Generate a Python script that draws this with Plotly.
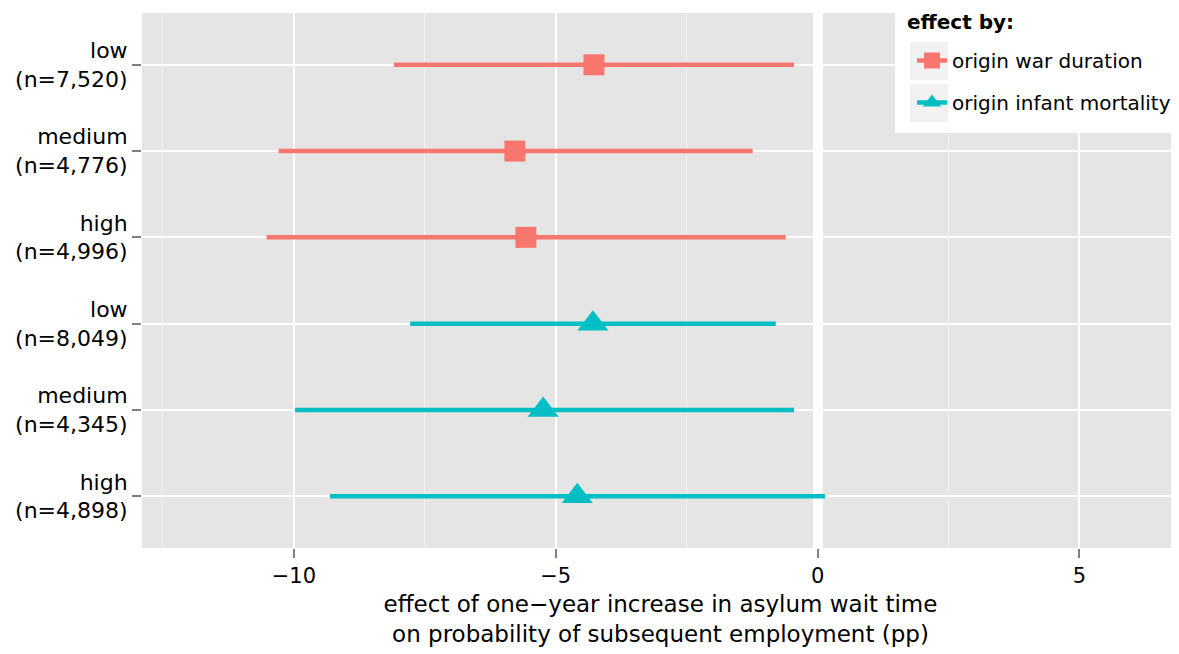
import plotly.graph_objects as go

# ---- data ----
groups = ["origin war duration", "origin infant mortality"]
war_labels = ["low<br>(n=7,520)", "medium<br>(n=4,776)", "high<br>(n=4,996)"]
inf_labels = ["low<br>(n=8,049)", "medium<br>(n=4,345)", "high<br>(n=4,898)"]

war_pt = [-4.27, -5.78, -5.57]
war_lo = [-8.09, -10.29, -10.52]
war_hi = [-0.45, -1.24, -0.61]

inf_pt = [-4.29, -5.24, -4.59]
inf_lo = [-7.78, -9.98, -9.31]
inf_hi = [-0.80, -0.45, 0.14]

x_ticks = [-10, -5, 0, 5]

colors = ["#F8766D", "#00BFC4"]
symbols = ["square", "triangle-up"]
sizes = [21, 27]

FONT = "DejaVu Sans"

# page body has an 8px margin; compensate so the plot lands where the reference has it
W, H = 1171, 646
ML, MR, MT, MB = 134, 0, 5, 106
PW = W - ML - MR
PH = H - MT - MB


def px_x(fx):
    return (fx - ML) / PW


def px_y(fy):
    return (MT + PH - fy) / PH


def with_gaps(vals):
    out = []
    for i, v in enumerate(vals):
        if i:
            out.append(None)
        out.append(v)
    return out


fig = go.Figure()
series = [
    (groups[0], war_labels, war_pt, war_lo, war_hi),
    (groups[1], inf_labels, inf_pt, inf_lo, inf_hi),
]
for k, (name, labs, pt, lo, hi) in enumerate(series):
    xs = with_gaps(pt)
    ys = with_gaps(labs)
    plus = with_gaps([h - p for h, p in zip(hi, pt)])
    minus = with_gaps([p - l for p, l in zip(pt, lo)])
    fig.add_trace(go.Scatter(
        x=xs, y=ys, name=name, mode="lines+markers",
        legendgroup=name,
        connectgaps=False,
        line=dict(color=colors[k], width=4.5),
        marker=dict(symbol=symbols[k], size=sizes[k], color=colors[k]),
        error_x=dict(type="data", symmetric=False, array=plus, arrayminus=minus,
                     color=colors[k], thickness=4.5, width=0),
    ))

cat_order = war_labels + inf_labels

# legend box (white) and grey key backgrounds, in figure pixel coords -> paper
shapes = [
    dict(type="rect", xref="paper", yref="paper", layer="above",
         x0=px_x(887), x1=px_x(1171), y0=px_y(125), y1=px_y(-10),
         fillcolor="white", line=dict(width=0)),
    dict(type="rect", xref="paper", yref="paper", layer="above",
         x0=px_x(902), x1=px_x(940), y0=px_y(72), y1=px_y(34),
         fillcolor="#F2F2F2", line=dict(width=0)),
    dict(type="rect", xref="paper", yref="paper", layer="above",
         x0=px_x(902), x1=px_x(940), y0=px_y(114), y1=px_y(76),
         fillcolor="#F2F2F2", line=dict(width=0)),
]

fig.update_layout(
    width=W, height=H,
    margin=dict(l=ML, r=MR, t=MT, b=MB, autoexpand=False),
    paper_bgcolor="white",
    plot_bgcolor="#E5E5E5",
    font=dict(family=FONT, size=21, color="black"),
    shapes=shapes,
    annotations=[dict(
        text="<b>effect by:</b>", xref="paper", yref="paper",
        x=px_x(897), y=px_y(14), xanchor="left", yanchor="middle",
        showarrow=False, font=dict(family=FONT, size=20, color="black"),
    )],
    legend=dict(
        x=px_x(904), y=px_y(33), xanchor="left", yanchor="top",
        bgcolor="rgba(0,0,0,0)", borderwidth=0,
        font=dict(family=FONT, size=20),
        tracegroupgap=13,
        itemsizing="trace",
    ),
    xaxis=dict(
        range=[-12.9, 6.9],
        tickvals=x_ticks,
        ticks="outside", ticklen=9, tickwidth=1.5, tickcolor="#7F7F7F",
        tickfont=dict(family=FONT, size=21, color="black"),
        showgrid=True, gridcolor="white", gridwidth=2,
        minor=dict(dtick=2.5, tick0=0, showgrid=True, gridcolor="#F2F2F2", gridwidth=1),
        zeroline=True, zerolinecolor="white", zerolinewidth=10,
        showline=False,
        title=dict(text="effect of one\u2212year increase in asylum wait time<br>on probability of subsequent employment (pp)",
                   font=dict(family=FONT, size=23), standoff=8),
    ),
    yaxis=dict(
        type="category",
        categoryorder="array", categoryarray=cat_order,
        range=[5.6, -0.6],
        ticks="outside", ticklen=9, tickwidth=1.5, tickcolor="#7F7F7F",
        tickfont=dict(family=FONT, size=22, color="black"),
        showgrid=True, gridcolor="white", gridwidth=2,
        zeroline=False, showline=False,
    ),
)

fig.write_html("out.html")
